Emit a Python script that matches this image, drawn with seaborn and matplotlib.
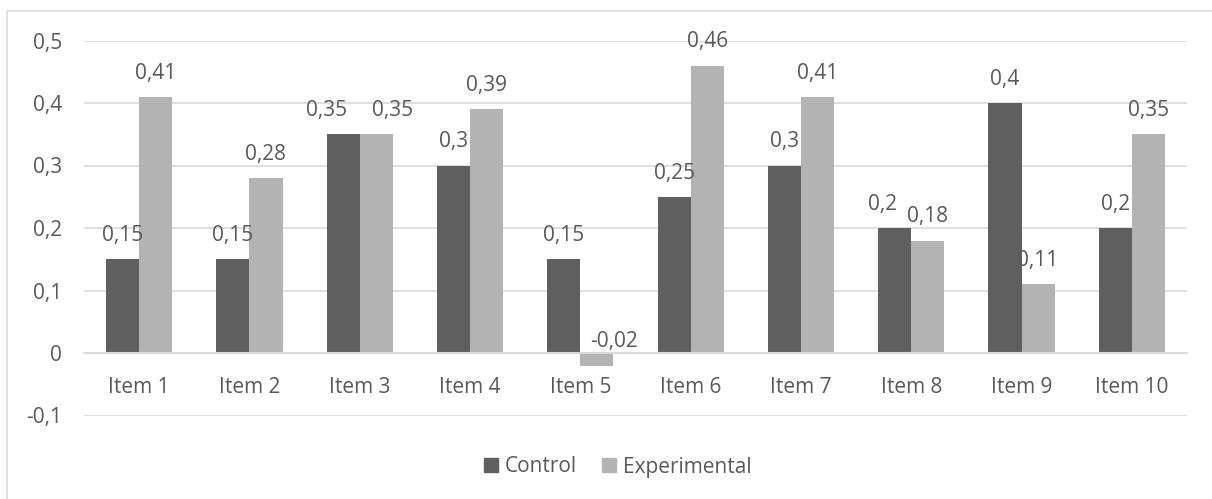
import matplotlib
matplotlib.use("Agg")
import matplotlib.pyplot as plt
from matplotlib.patches import Rectangle
from matplotlib.lines import Line2D
import seaborn as sns
import pandas as pd

items = ["Item 1", "Item 2", "Item 3", "Item 4", "Item 5",
         "Item 6", "Item 7", "Item 8", "Item 9", "Item 10"]
control = [0.15, 0.15, 0.35, 0.30, 0.15, 0.25, 0.30, 0.20, 0.40, 0.20]
experimental = [0.41, 0.28, 0.35, 0.39, -0.02, 0.46, 0.41, 0.18, 0.11, 0.35]
groups = ["Control", "Experimental"]
colors = ["#5f5f5f", "#b3b3b3"]
yticks = [-0.1, 0, 0.1, 0.2, 0.3, 0.4, 0.5]

df = pd.DataFrame({
    "item": items * 2,
    "value": control + experimental,
    "group": [groups[0]] * len(items) + [groups[1]] * len(items),
})

sns.set_style("white")
plt.rcParams["font.family"] = ["Open Sans", "DejaVu Sans"]
txt = "#595959"
grid = "#d9d9d9"
fs = 15

fig = plt.figure(figsize=(12.12, 4.99), dpi=100)
ax = fig.add_axes([84 / 1212, 1 - 415.5 / 499, (1187 - 84) / 1212, 375 / 499])

sns.barplot(data=df, x="item", y="value", hue="group", order=items,
            hue_order=groups, palette=colors, width=0.6, gap=0,
            saturation=1, linewidth=0, legend=False, ax=ax)

ax.set_ylim(-0.1, 0.5)
ax.set_xlim(-0.5, len(items) - 0.5)
ax.set_yticks(yticks)
ax.set_yticklabels([("%g" % t).replace(".", ",") for t in yticks])
ax.yaxis.grid(True, color=grid, linewidth=1.2)
ax.set_axisbelow(True)
for s in ["top", "right", "left"]:
    ax.spines[s].set_visible(False)
ax.spines["bottom"].set_position(("data", 0))
ax.spines["bottom"].set_color(grid)
ax.spines["bottom"].set_linewidth(1.5)
ax.tick_params(axis="x", length=0, pad=17, labelsize=fs, labelcolor=txt)
ax.tick_params(axis="y", length=0, pad=16, labelsize=fs, labelcolor=txt)
ax.set_xlabel("")
ax.set_ylabel("")

# data labels (nudge apart when the two labels of an item would collide)
for k, cont in enumerate(ax.containers):
    vals = control if k == 0 else experimental
    other = experimental if k == 0 else control
    for i, bar in enumerate(cont):
        v = vals[i]
        x = bar.get_x() + bar.get_width() / 2
        lab = ("%g" % v).replace(".", ",")
        dx = 0
        if abs(v - other[i]) < 0.001:
            dx = -12 if k == 0 else 12
        elif abs(v - other[i]) < 0.03 and k == 0:
            dx = -9
        if v < 0:
            ax.annotate(lab, (x, 0), xytext=(12, 8), textcoords="offset points",
                        ha="center", va="center", fontsize=fs, color=txt)
        else:
            ax.annotate(lab, (x, v), xytext=(dx, 17), textcoords="offset points",
                        ha="center", va="center", fontsize=fs, color=txt)

handles = [Line2D([], [], marker="s", linestyle="", markersize=10,
                  markerfacecolor=c, markeredgecolor=c) for c in colors]
fig.legend(handles, groups, loc="center", bbox_to_anchor=(616 / 1212, 1 - 467 / 499),
           ncol=2, frameon=False, fontsize=fs, labelcolor=txt,
           handletextpad=0.2, columnspacing=1.0, handlelength=1)

# chart border
fig.patches.append(Rectangle((7 / 1212, -0.5), 2, 0.5 + 1 - 11 / 499,
                             transform=fig.transFigure, fill=False,
                             edgecolor=grid, linewidth=1.2))

fig.savefig("out.png", dpi=100)
